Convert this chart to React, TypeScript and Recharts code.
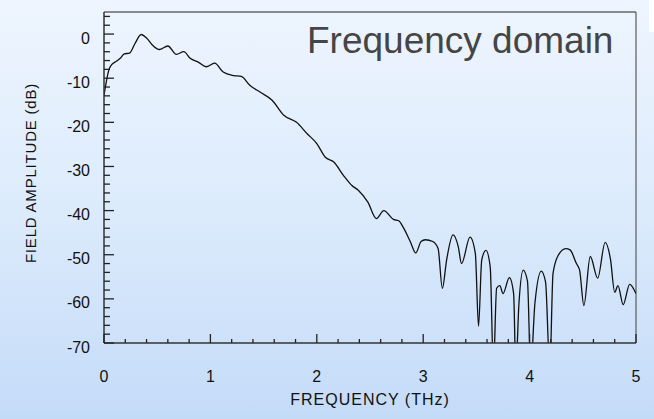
import { Label, Line, LineChart, ReferenceLine, XAxis, YAxis } from "recharts";

// frequency (THz) and field amplitude (dB)
const freq = [
  0.0, 0.05, 0.07, 0.12, 0.16, 0.19, 0.24, 0.29, 0.35, 0.4, 0.46, 0.52, 0.6, 0.68, 0.75, 0.81, 0.89, 0.96,
  1.04, 1.12, 1.22, 1.29, 1.37, 1.47, 1.58, 1.69, 1.81, 1.91, 2.0, 2.08, 2.16, 2.25, 2.33, 2.39, 2.48,
  2.56, 2.63, 2.72, 2.77, 2.81, 2.88, 2.93, 2.98, 3.02, 3.09, 3.14, 3.18, 3.22, 3.28, 3.33, 3.36, 3.44,
  3.49, 3.52, 3.55, 3.59, 3.63, 3.66, 3.69, 3.72, 3.75, 3.81, 3.85, 3.87, 3.9, 3.94, 3.98, 4.01, 4.05,
  4.11, 4.15, 4.19, 4.22, 4.27, 4.34, 4.38, 4.44, 4.47, 4.51, 4.57, 4.64, 4.71, 4.76, 4.8, 4.83, 4.88,
  4.94, 5.0,
];
const amplitude = [
  -13.9, -7.8, -7.0, -6.1, -5.3, -4.5, -4.3, -2.2, -0.1, -0.9, -2.6, -3.5, -2.7, -4.6, -4.0, -5.5, -6.4, -7.4,
  -6.6, -8.6, -9.4, -9.6, -11.6, -13.2, -15.0, -18.4, -20.0, -22.6, -24.8, -27.9, -29.0, -32.0, -34.3, -35.4, -38.1,
  -41.8, -40.0, -42.0, -42.3, -43.7, -47.1, -49.6, -47.0, -46.6, -47.0, -48.6, -57.6, -51.2, -45.5, -48.2, -52.0, -46.0,
  -49.7, -66.2, -51.2, -49.0, -52.8, -76, -57.6, -57.0, -58.8, -55.2, -58.8, -76, -61, -53.5, -56, -76, -61,
  -53.7, -56.2, -76, -54.3, -50.1, -48.6, -48.9, -52.0, -53.5, -61.5, -50.4, -55.3, -47.2, -51, -58.5, -57.0, -61.3,
  -56.7, -58.8,
];

const xMajor = [0, 1, 2, 3, 4, 5];
const xTicks = [
  0, 0.2, 0.4, 0.6, 0.8, 1, 1.2, 1.4, 1.6, 1.8, 2, 2.2, 2.4, 2.6, 2.8, 3, 3.2, 3.4, 3.6, 3.8, 4, 4.2, 4.4, 4.6,
  4.8, 5,
];
const yMajor = [0, -10, -20, -30, -40, -50, -60, -70];
const yTicks = [
  4, 2, 0, -2, -4, -6, -8, -10, -12, -14, -16, -18, -20, -22, -24, -26, -28, -30, -32, -34, -36, -38, -40, -42,
  -44, -46, -48, -50, -52, -54, -56, -58, -60, -62, -64, -66, -68, -70,
];

const data = freq.map((f, i) => ({ f, db: amplitude[i] }));

const font = "'Liberation Sans', Arial, sans-serif";

function FreqTick(props: any) {
  const { x, y, payload } = props;
  const major = xMajor.includes(payload.value);
  return (
    <g>
      <line x1={x} x2={x} y1={y} y2={y - (major ? 9 : 4)} stroke="#222" strokeWidth={1.3} />
      {major && (
        <text x={x} y={y + 39} textAnchor="middle" fontSize={16} fontFamily={font} fill="#111">
          {payload.value}
        </text>
      )}
    </g>
  );
}

function DbTick(props: any) {
  const { x, y, payload } = props;
  const major = yMajor.includes(payload.value);
  return (
    <g>
      <line x1={x} x2={x + (major ? 10 : 6)} y1={y} y2={y} stroke="#222" strokeWidth={1.3} />
      {major && (
        <text x={x - 14} y={y + 9.5} textAnchor="end" fontSize={16} fontFamily={font} fill="#111">
          {payload.value}
        </text>
      )}
    </g>
  );
}

export default function App() {
  return (
    <div
      style={{
        position: "absolute",
        left: 0,
        top: 0,
        width: 654,
        height: 419,
        background: "linear-gradient(to bottom, #eef5fe 0%, #dcebfc 50%, #c4dbf8 100%)",
        overflow: "hidden",
      }}
    >
      <div style={{ position: "absolute", left: 649, top: 0, width: 5, height: 32, background: "#fff" }} />
      <div
        style={{
          position: "absolute",
          left: 307,
          top: 22,
          fontFamily: font,
          fontSize: 37,
          color: "#454545",
          whiteSpace: "nowrap",
          lineHeight: 1,
        }}
      >
        Frequency domain
      </div>
      <LineChart width={654} height={419} data={data} margin={{ top: 12, right: 18, bottom: 36, left: 44 }}>
        <XAxis
          dataKey="f"
          type="number"
          domain={[0, 5]}
          ticks={xTicks}
          interval={0}
          height={40}
          tickSize={0}
          tickMargin={0}
          tickLine={false}
          axisLine={{ stroke: "#333", strokeWidth: 1.5 }}
          tick={<FreqTick />}
          allowDataOverflow
        >
          <Label
            content={({ viewBox }: any) => (
              <text
                x={viewBox.x + viewBox.width / 2}
                y={viewBox.y + 62}
                textAnchor="middle"
                fontSize={16}
                fontFamily={font}
                fill="#111"
                letterSpacing={1}
              >
                FREQUENCY (THz)
              </text>
            )}
          />
        </XAxis>
        <YAxis
          type="number"
          domain={[-70, 5]}
          ticks={yTicks}
          interval={0}
          width={60}
          tickSize={0}
          tickMargin={0}
          tickLine={false}
          axisLine={{ stroke: "#333", strokeWidth: 1.5 }}
          tick={<DbTick />}
          allowDataOverflow
        >
          <Label
            content={({ viewBox }: any) => (
              <text
                x={36}
                y={viewBox.y + 161}
                transform={`rotate(-90 36 ${viewBox.y + 161})`}
                textAnchor="middle"
                fontSize={15}
                fontFamily={font}
                fill="#111"
                letterSpacing={0.8}
              >
                FIELD AMPLITUDE (dB)
              </text>
            )}
          />
        </YAxis>
        <ReferenceLine y={5} stroke="#666" strokeWidth={1.3} />
        <ReferenceLine x={5} stroke="#666" strokeWidth={1.3} />
        <Line
          type="monotone"
          dataKey="db"
          stroke="#111"
          strokeWidth={1.3}
          dot={false}
          isAnimationActive={false}
        />
      </LineChart>
    </div>
  );
}
